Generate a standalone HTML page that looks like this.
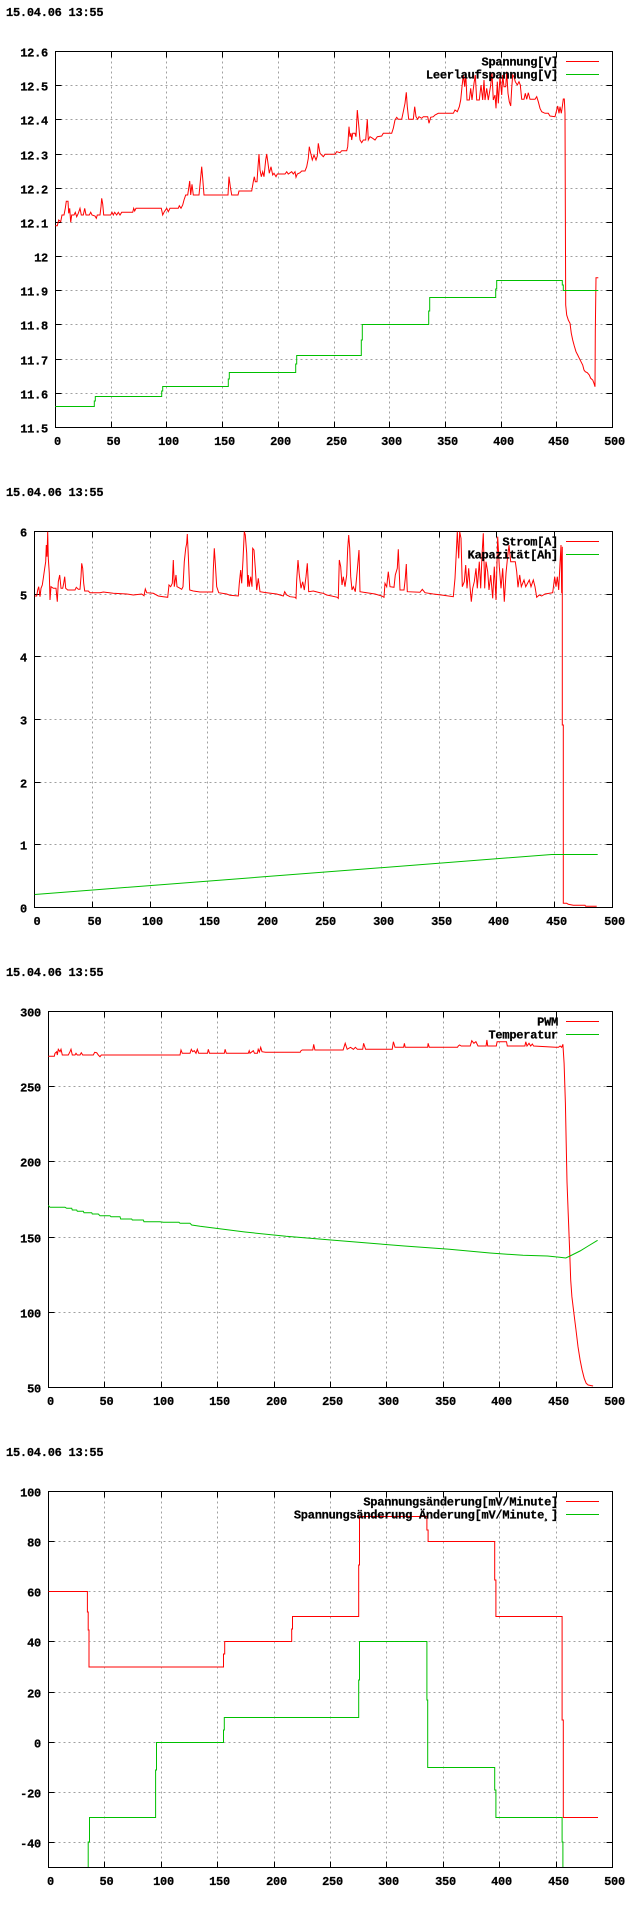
<!DOCTYPE html>
<html>
<head>
<meta charset="utf-8">
<style>
html,body{margin:0;padding:0;background:#fff;}
svg{display:block;}
text{font-family:"Liberation Mono","DejaVu Sans Mono",monospace;font-weight:bold;font-size:12px;letter-spacing:-0.25px;fill:#000;stroke:#000;stroke-width:0.25px;}
.ax{fill:none;stroke:#000;stroke-width:1;shape-rendering:crispEdges;}
.gr{fill:none;stroke:#a0a0a0;stroke-width:1;stroke-dasharray:2,3;shape-rendering:crispEdges;}
.r{fill:none;stroke:#ff0000;stroke-width:1;}
.g{fill:none;stroke:#00c000;stroke-width:1;}
.e{text-anchor:end;}
.m{text-anchor:middle;}
</style>
</head>
<body>
<svg width="640" height="1920" viewBox="0 0 640 1920" xmlns="http://www.w3.org/2000/svg">
<rect x="0" y="0" width="640" height="1920" fill="#fff"/>

<!-- ================= CHART 1 ================= -->
<g transform="translate(0,0)">
<text x="6" y="16">15.04.06 13:55</text>
<path class="gr" d="M111.5,51.5V427.5M166.5,51.5V427.5M222.5,51.5V427.5M278.5,51.5V427.5M334.5,51.5V427.5M389.5,51.5V427.5M445.5,51.5V427.5M501.5,51.5V427.5M556.5,51.5V427.5
M55.5,85.5H612.5M55.5,119.5H612.5M55.5,154.5H612.5M55.5,188.5H612.5M55.5,222.5H612.5M55.5,256.5H612.5M55.5,290.5H612.5M55.5,324.5H612.5M55.5,359.5H612.5M55.5,393.5H612.5"/>
<path class="ax" d="M55.5,51.5H612.5V427.5H55.5Z
M111.5,427.5V421.5M166.5,427.5V421.5M222.5,427.5V421.5M278.5,427.5V421.5M334.5,427.5V421.5M389.5,427.5V421.5M445.5,427.5V421.5M501.5,427.5V421.5M556.5,427.5V421.5
M111.5,51.5V57.5M166.5,51.5V57.5M222.5,51.5V57.5M278.5,51.5V57.5M334.5,51.5V57.5M389.5,51.5V57.5M445.5,51.5V57.5M501.5,51.5V57.5M556.5,51.5V57.5
M55.5,85.5H61.5M55.5,119.5H61.5M55.5,154.5H61.5M55.5,188.5H61.5M55.5,222.5H61.5M55.5,256.5H61.5M55.5,290.5H61.5M55.5,324.5H61.5M55.5,359.5H61.5M55.5,393.5H61.5
M612.5,85.5H606.5M612.5,119.5H606.5M612.5,154.5H606.5M612.5,188.5H606.5M612.5,222.5H606.5M612.5,256.5H606.5M612.5,290.5H606.5M612.5,324.5H606.5M612.5,359.5H606.5M612.5,393.5H606.5"/>
<text class="e" x="48" y="56.5">12.6</text>
<text class="e" x="48" y="90.5">12.5</text>
<text class="e" x="48" y="124.5">12.4</text>
<text class="e" x="48" y="159.5">12.3</text>
<text class="e" x="48" y="193.5">12.2</text>
<text class="e" x="48" y="227.5">12.1</text>
<text class="e" x="48" y="261.5">12</text>
<text class="e" x="48" y="295.5">11.9</text>
<text class="e" x="48" y="329.5">11.8</text>
<text class="e" x="48" y="364.5">11.7</text>
<text class="e" x="48" y="398.5">11.6</text>
<text class="e" x="48" y="432.5">11.5</text>
<text class="m" x="57.5" y="445">0</text>
<text class="m" x="113.5" y="445">50</text>
<text class="m" x="168.5" y="445">100</text>
<text class="m" x="224.5" y="445">150</text>
<text class="m" x="280.5" y="445">200</text>
<text class="m" x="336.5" y="445">250</text>
<text class="m" x="391.5" y="445">300</text>
<text class="m" x="447.5" y="445">350</text>
<text class="m" x="503.5" y="445">400</text>
<text class="m" x="558.5" y="445">450</text>
<text class="m" x="614.5" y="445">500</text>
<polyline class="r" points="55.3,225.7 57.3,225.7 58.7,220 60.7,221.7 62,215 64,215 65.3,208.3 66.3,201.3 68,201.3 68.7,213.3 69.7,208.3 70.7,222.3 71.7,215 74,215 75.3,212.3 76.7,216.7 78.3,213.3 80,208.3 81.3,215 83.3,215 84.7,208.3 86,215 89.3,215 90.7,212.3 92,215 95,216 96.3,218.3 97.3,215 100,215 101,206.7 101.7,198.3 102.7,204 103.7,215 110.7,215 112,212.3 113.3,215 114.7,212.3 116.7,215 118.3,212.3 120,215 121.7,212.3 132.7,212.3 133.7,208.3 134.7,211 136,208.3 161.3,208.3 162.7,215 164.3,211.7 166.7,208.3 168.3,211.7 170,208.3 178.3,208.3 179.3,205.7 181,208.3 182.7,205 184,200 185.7,195 187.7,195 188.7,188.3 189.7,181 190.7,195 192,184.3 193.3,195 199,195 200.3,181.7 201.7,166.7 202.7,178.3 204,195 228,195 229,176.7 230.3,186.7 231.7,195 238,195 239,191 251.7,191 253.3,181.7 254.3,176.7 255.3,181.7 257,181.7 258,166.7 259,154 260,170 261.3,176.7 262.7,171.7 264,176.7 265.7,160 266.7,154 268,163.3 269.3,173.3 271,166.7 272.7,175 274,173.3 276,176.7 277.3,174 285,174 286.7,171.7 288.3,174 291.7,171.7 293.3,174 295,171.7 296,177.3 297.3,174 300,172.7 301.7,171 305,171 306.7,166.7 308.3,158.3 309.3,146.7 310.7,153.3 312.3,160 314,155 316,160 317.3,156 318.3,143.3 320,153.3 323.3,156.7 325,154.3 335,154.3 336.7,151.7 340,152.7 341.7,150.7 346.7,150.7 347.7,146.7 349,126.7 350,136.7 351,133.3 351.7,140 352.7,133.3 355,133.3 356,136.7 357.3,110 358.7,125 360,140 361.7,142.7 363.3,140 365.7,140 367.3,119.3 368.3,140 370,136.7 372.7,138.3 375,140 377.3,136.7 381.7,136 383.3,133.3 391.7,133.3 393.3,128.3 395,120 396.7,117.3 398.3,119.3 401.7,119.3 403.3,111.7 405,103.3 406.3,92.3 407.3,106.7 408.7,119.3 413.3,119.3 414.7,106.7 416,116.7 417.7,119.3 419,116.7 421.7,118.3 423.3,116.7 427.7,116.7 429,123.3 430.7,117.3 433.3,116.7 435,115 438.3,113.3 453.3,113.3 455,110 457.3,111.7 459.3,106.7 460.7,100 462,86.7 463.3,75 464.7,86.7 465.7,72.7 467,100 469.3,100 470.7,88.3 472,100 474,83.3 475.3,75 476.7,100 479.3,100 481,85 482.7,100 484,80 485,100 486.7,88.3 488.3,100 490.7,85 492,73.3 493.3,100 495,95 496,108.3 497.3,81.7 498.3,103.3 500,76.7 501.7,95 502.7,75 504,86.7 505.7,86.7 506.7,71.7 508,93.3 509.3,101.7 510.7,106 511.7,88.3 512.7,75 514,76.7 515.3,81.7 517.3,85 519,81.7 520.3,85 521.7,99.3 524,99.3 525.3,93.3 526.7,99.3 528.3,92.7 530,99.3 535,99.3 536.7,96.7 538.3,101.7 540,108.3 541.7,111.7 545,113.3 548.3,113.3 550,116 555,116.7 556.7,110 557.7,106 559,113.3 560,106.7 561.3,113.3 562.3,106.7 563.3,99 564.3,99 565,113.3 565.3,200 565.7,305 566.7,315 568.3,320 570,323.3 571.3,333.3 572.7,340 574.3,346 576,351.7 577.7,355 579.3,358.3 581,361.7 582.7,365 584,370 585.3,371.7 587.3,372.7 589.3,375 590.7,378.3 592.7,380 594,383.3 595,386.7 595.3,331.7 596,277.7 598.3,277.7"/>
<path class="g" d="M55.3,406.5H94.3V401H95.3V396.5H161.7V391H162.7V386.5H228.3V379H229.3V372.5H295.7V364H296.7V355.5H361.3V340H362.3V324.5H428.7V311H429.7V297.5H495.7V289H496.7V280.5H562.3V285H563.3V290.5H598.3"/>
<text class="e" x="558" y="65.5">Spannung[V]</text>
<text class="e" x="558" y="78.5">Leerlaufspannung[V]</text>
<path class="r" d="M566,61.5H599"/>
<path class="g" d="M566,74.5H599"/>
</g>

<!-- ================= CHART 2 ================= -->
<g transform="translate(0,480)">
<text x="6" y="16">15.04.06 13:55</text>
<path class="gr" d="M92.5,51.5V427.5M150.5,51.5V427.5M207.5,51.5V427.5M265.5,51.5V427.5M323.5,51.5V427.5M381.5,51.5V427.5M439.5,51.5V427.5M496.5,51.5V427.5M554.5,51.5V427.5
M34.5,114.5H612.5M34.5,176.5H612.5M34.5,239.5H612.5M34.5,302.5H612.5M34.5,364.5H612.5"/>
<path class="ax" d="M34.5,51.5H612.5V427.5H34.5Z
M92.5,427.5V421.5M150.5,427.5V421.5M207.5,427.5V421.5M265.5,427.5V421.5M323.5,427.5V421.5M381.5,427.5V421.5M439.5,427.5V421.5M496.5,427.5V421.5M554.5,427.5V421.5
M92.5,51.5V57.5M150.5,51.5V57.5M207.5,51.5V57.5M265.5,51.5V57.5M323.5,51.5V57.5M381.5,51.5V57.5M439.5,51.5V57.5M496.5,51.5V57.5M554.5,51.5V57.5
M34.5,114.5H40.5M34.5,176.5H40.5M34.5,239.5H40.5M34.5,302.5H40.5M34.5,364.5H40.5
M612.5,114.5H606.5M612.5,176.5H606.5M612.5,239.5H606.5M612.5,302.5H606.5M612.5,364.5H606.5"/>
<text class="e" x="27" y="56.5">6</text>
<text class="e" x="27" y="119.5">5</text>
<text class="e" x="27" y="181.5">4</text>
<text class="e" x="27" y="244.5">3</text>
<text class="e" x="27" y="307.5">2</text>
<text class="e" x="27" y="369.5">1</text>
<text class="e" x="27" y="432.5">0</text>
<text class="m" x="37" y="445">0</text>
<text class="m" x="94.5" y="445">50</text>
<text class="m" x="152.5" y="445">100</text>
<text class="m" x="209.5" y="445">150</text>
<text class="m" x="267.5" y="445">200</text>
<text class="m" x="325.5" y="445">250</text>
<text class="m" x="383.5" y="445">300</text>
<text class="m" x="441.5" y="445">350</text>
<text class="m" x="498.5" y="445">400</text>
<text class="m" x="556.5" y="445">450</text>
<text class="m" x="614.5" y="445">500</text>
<polyline class="r" points="34.7,116 36.7,116 37.7,110 38.7,106.7 40,116.7 41,108.3 42.3,105 43.3,98.3 44.7,88.3 45.7,81.7 46.3,65 47,76.7 47.7,51.7 48.3,78.3 49.3,93.3 50,120 51,106.7 53.3,108.3 56,108.3 57.3,121.7 58.3,101.7 59.7,95 61,108.3 62.7,108.3 63.7,103.3 64.7,96.7 65.7,108.3 67.7,110 75,110 76.3,107.3 78.3,109.3 80,109.3 81,96.7 81.7,83.3 82.7,88.3 83.7,103.3 84.7,111 88.3,111 90,112.7 100,112.7 103.3,112 113.3,113.3 126.7,114 133.3,115 141.7,114 144,115.7 145.3,109 146.7,112.7 153.3,113.3 158.3,116 163.3,116.7 167.7,117.3 169,105 170.7,106.7 172.3,103.3 173.3,80 174.3,106.7 176,95 177,106.7 178.3,107.3 181.7,109.3 183,106.7 184.3,81.7 185.7,68.3 186.7,63.3 187.3,54 188.3,75 189.7,110 193.3,111 200,112 212.7,112 213.3,90 214.3,68.3 215.3,83.3 216.7,106.7 218.7,112.7 226.7,114 230,115.3 238.3,116 239.3,103.3 240.7,90 241.7,103.3 243,80 244.3,51.7 245.3,55 246.7,73.3 247.7,106.7 248.3,95 249.3,106.7 250.7,96.7 252,106.7 252.7,68.3 254,70 255.3,88.3 256.7,110 258.3,98.3 260,111.7 266.7,112.7 276.7,114 283.3,116 284.7,111.7 286.7,115 290,116.7 295,117.3 296,118.3 296.7,100 298,80 299.3,95 301,108.3 302.7,101.7 304.3,110 306,96.7 307.3,83.3 308.7,111.7 313.3,111 320,112.7 323.3,113.3 326.7,115 331.7,116 337.3,117.3 338.3,118.3 339.3,80 340.7,86.7 342,105 343.3,96.7 345,106.7 346.7,95 347.7,68.3 348.7,55 349.7,68.3 350.7,96.7 352,110 353.3,106.7 355.3,111.7 357.3,90 359,70 360,111.7 366.7,112.7 375,114 381.7,116 384,117.3 385,103.3 386.7,106.7 388.3,91.7 390,106.7 394,107.3 395.3,95 397.3,88.3 398.3,69.3 400,110 404,110 405.3,98.3 406.3,84 407.3,111.7 420,112.3 422.3,109.3 425,112.7 433.3,114 443.3,115.3 453.3,116.7 455,98.3 456,78.3 457.3,51.7 458.7,78.3 459.7,51.7 461,58.3 462.3,106.7 464.3,101.7 465.7,85 467,108.3 468.7,88.3 470,106.7 471.3,121.7 472.7,108.3 474.3,101.7 476,88.3 477.3,108.3 479.3,81.7 480.7,108.3 482,75 483.3,53.3 484.7,108.3 486,81.7 487.7,91.7 489,110 490.7,95 492.7,118.3 494.3,86.7 496,120 497.7,56.7 499.3,86.7 501,108.3 502.7,88.3 504.3,121.7 506,93.3 507.3,80 509,65 510.7,81.7 515.3,81.7 516.7,91.7 518,107.3 519.7,95 521.3,106.7 524,100 525.7,106.7 529.3,100 531,106.7 533.3,100 535,106.7 536.7,117.3 539.3,115 541.7,116 545,114 552.7,112.7 554.7,96.7 556,106.7 557.3,96.7 558.7,110 560,83.3 561,65 561.7,113.3 562.3,66.7 562.3,245 563.3,245 563.3,423.3 566.7,423.3 568.3,424.3 573.3,425.3 585,425.3 585.7,426.3 596.7,426.3"/>
<path class="g" d="M34.7,414.5L551.7,374.5H597.7"/>
<text class="e" x="558" y="65.5">Strom[A]</text>
<text class="e" x="558" y="78.5">Kapazität[Ah]</text>
<path class="r" d="M566,61.5H599"/>
<path class="g" d="M566,74.5H599"/>
</g>

<!-- ================= CHART 3 ================= -->
<g transform="translate(0,960)">
<text x="6" y="16">15.04.06 13:55</text>
<path class="gr" d="M104.5,51.5V427.5M161.5,51.5V427.5M217.5,51.5V427.5M274.5,51.5V427.5M330.5,51.5V427.5M386.5,51.5V427.5M443.5,51.5V427.5M499.5,51.5V427.5M556.5,51.5V427.5
M48.5,126.5H612.5M48.5,201.5H612.5M48.5,277.5H612.5M48.5,352.5H612.5"/>
<path class="ax" d="M48.5,51.5H612.5V427.5H48.5Z
M104.5,427.5V421.5M161.5,427.5V421.5M217.5,427.5V421.5M274.5,427.5V421.5M330.5,427.5V421.5M386.5,427.5V421.5M443.5,427.5V421.5M499.5,427.5V421.5M556.5,427.5V421.5
M104.5,51.5V57.5M161.5,51.5V57.5M217.5,51.5V57.5M274.5,51.5V57.5M330.5,51.5V57.5M386.5,51.5V57.5M443.5,51.5V57.5M499.5,51.5V57.5M556.5,51.5V57.5
M48.5,126.5H54.5M48.5,201.5H54.5M48.5,277.5H54.5M48.5,352.5H54.5
M612.5,126.5H606.5M612.5,201.5H606.5M612.5,277.5H606.5M612.5,352.5H606.5"/>
<text class="e" x="41" y="56.5">300</text>
<text class="e" x="41" y="131.5">250</text>
<text class="e" x="41" y="206.5">200</text>
<text class="e" x="41" y="282.5">150</text>
<text class="e" x="41" y="357.5">100</text>
<text class="e" x="41" y="432.5">50</text>
<text class="m" x="50.5" y="445">0</text>
<text class="m" x="106.5" y="445">50</text>
<text class="m" x="163.5" y="445">100</text>
<text class="m" x="219.5" y="445">150</text>
<text class="m" x="276.5" y="445">200</text>
<text class="m" x="332.5" y="445">250</text>
<text class="m" x="388.5" y="445">300</text>
<text class="m" x="445.5" y="445">350</text>
<text class="m" x="501.5" y="445">400</text>
<text class="m" x="558.5" y="445">450</text>
<text class="m" x="614.5" y="445">500</text>
<polyline class="r" points="48.3,96.3 54.3,96.3 55,93.3 56.7,91.7 57.3,95 58.3,89.3 60,91.7 61,89.3 62.3,95 68.3,95 70,91.7 71,89.3 72.3,95 75,95 76,93.3 77.3,95 80,95 81.3,92.7 82.7,95 93.3,95 94.7,92.3 96.7,92.7 98.3,95 100,96.7 101.3,95 180,95 181,90 182.3,93.3 190,93.3 191.3,89.3 192.7,91.7 194.3,90.7 196,93.3 197.3,89.3 198.7,93.3 207.5,93.3 208.3,89.3 209.5,93.3 224.3,93.3 225.1,89.3 226.3,93.3 248.3,93.3 249.2,90.7 250,93.3 253.3,90.7 254.5,93.3 257.4,93.3 258.2,89.3 259.4,92 260.7,87.3 262,91.7 265.5,92.3 300.2,92.3 301,90.7 302.2,90 312.8,90 313.7,84.3 314.9,90 343.1,90 345.2,83.3 347.2,89.3 350.5,87.3 353.4,89.3 355.4,87.3 357.4,89.3 362.7,89.3 363.6,83.3 365.6,89.3 392.2,89.3 393.4,81.7 395,87.3 403.6,87.3 404.4,83.3 405.2,87.3 427.7,87.3 428.1,83.3 429.3,87.3 457.5,87.3 458.3,86 459.6,85 461.2,86 470.2,86 471.8,80.7 473.9,83.3 475.9,81.7 478,86 486.1,86 486.9,80 487.7,86 496.3,86 497.1,81.7 506.5,81.7 507.3,86 524.9,86 525.8,81.7 527,86 529,83.3 530.7,86 532.3,84 533.6,86 555.6,87.3 558.5,87.3 560.1,86 561.7,87.3 562.9,84.3 564.1,103.3 565.4,143.3 566.2,183.3 567,221.7 568.2,253.3 569.5,286.7 570.7,320 571.9,336.7 573.9,353.3 576,370 578,386.7 580.1,400 582.1,410 584.2,418.3 586.2,423.3 588.2,425 593.1,426"/>
<polyline class="g" points="48.3,245.3 50,247.3 65,247.3 66.7,248.3 71.7,248.3 72.3,250 76.7,250 77.3,251.3 83.3,251.3 84,252.7 91.7,252.7 92.3,254 98.3,254 100,255.7 110,255.7 111,256.7 120,256.7 120.7,259 131.7,259 132.3,260 143.3,260 144,261.7 160,261.7 163.3,262.3 179,262.3 180,263.3 190,263.3 191.7,265 200,266.3 245,272 286,276.3 331,280 380,284 404.4,286 449.4,289.3 490,293 523,295.3 547.4,296 559.6,297.3 565.8,298 570,296 580,291 588.2,286 597.6,280.3"/>
<text class="e" x="558" y="65.5">PWM</text>
<text class="e" x="558" y="78.5">Temperatur</text>
<path class="r" d="M566,61.5H599"/>
<path class="g" d="M566,74.5H599"/>
</g>

<!-- ================= CHART 4 ================= -->
<g transform="translate(0,1440)">
<text x="6" y="16">15.04.06 13:55</text>
<path class="gr" d="M104.5,51.5V427.5M161.5,51.5V427.5M217.5,51.5V427.5M274.5,51.5V427.5M330.5,51.5V427.5M386.5,51.5V427.5M443.5,51.5V427.5M499.5,51.5V427.5M556.5,51.5V427.5
M48.5,101.5H612.5M48.5,151.5H612.5M48.5,201.5H612.5M48.5,252.5H612.5M48.5,302.5H612.5M48.5,352.5H612.5M48.5,402.5H612.5"/>
<path class="ax" d="M48.5,51.5H612.5V427.5H48.5Z
M104.5,427.5V421.5M161.5,427.5V421.5M217.5,427.5V421.5M274.5,427.5V421.5M330.5,427.5V421.5M386.5,427.5V421.5M443.5,427.5V421.5M499.5,427.5V421.5M556.5,427.5V421.5
M104.5,51.5V57.5M161.5,51.5V57.5M217.5,51.5V57.5M274.5,51.5V57.5M330.5,51.5V57.5M386.5,51.5V57.5M443.5,51.5V57.5M499.5,51.5V57.5M556.5,51.5V57.5
M48.5,101.5H54.5M48.5,151.5H54.5M48.5,201.5H54.5M48.5,252.5H54.5M48.5,302.5H54.5M48.5,352.5H54.5M48.5,402.5H54.5
M612.5,101.5H606.5M612.5,151.5H606.5M612.5,201.5H606.5M612.5,252.5H606.5M612.5,302.5H606.5M612.5,352.5H606.5M612.5,402.5H606.5"/>
<text class="e" x="41" y="56.5">100</text>
<text class="e" x="41" y="106.5">80</text>
<text class="e" x="41" y="156.5">60</text>
<text class="e" x="41" y="206.5">40</text>
<text class="e" x="41" y="257.5">20</text>
<text class="e" x="41" y="307.5">0</text>
<text class="e" x="41" y="357.5">-20</text>
<text class="e" x="41" y="407.5">-40</text>
<text class="m" x="50.5" y="445">0</text>
<text class="m" x="106.5" y="445">50</text>
<text class="m" x="163.5" y="445">100</text>
<text class="m" x="219.5" y="445">150</text>
<text class="m" x="276.5" y="445">200</text>
<text class="m" x="332.5" y="445">250</text>
<text class="m" x="388.5" y="445">300</text>
<text class="m" x="445.5" y="445">350</text>
<text class="m" x="501.5" y="445">400</text>
<text class="m" x="558.5" y="445">450</text>
<text class="m" x="614.5" y="445">500</text>
<path class="r" d="M48.5,151.5H87.4V172H88.2V190H89V227H223.5V214H224.7V201.5H291.7V189H292.5V176.5H358.7V125H359.5V76.5H426.9V90H428.1V101.5H494.7V140H495.9V176.5H562.1V280H563.3V377.5H598"/>
<path class="g" d="M88.2,427V402H89.5V377.5H155.6V330H156.5V302.5H223.5V290H224.3V277.5H358.7V240H359.5V201.5H426.9V260H427.7V327.5H494.7V350H495.9V377.5H562.1V402H562.9V427"/>
<text class="e" x="558" y="65.5">Spannungsänderung[mV/Minute]</text>
<text class="e" x="558" y="78.5">Spannungsänderung Änderung[mV/Minute¸]</text>
<path class="r" d="M566,61.5H599"/>
<path class="g" d="M566,74.5H599"/>
</g>
</svg>
</body>
</html>
